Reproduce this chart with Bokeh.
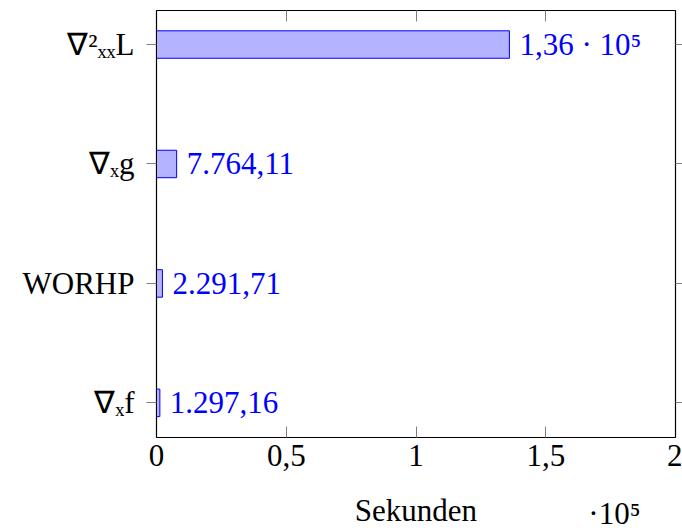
from bokeh.plotting import figure
from bokeh.models import Range1d, FixedTicker, LinearAxis, ColumnDataSource, Title, CustomJSTickFormatter
from bokeh.embed import file_html
from bokeh.resources import INLINE
from bokeh.core.properties import value

categories = ["∇ₓf", "WORHP", "∇ₓg", "∇²ₓₓL"]
seconds = [1297.16, 2291.71, 7764.11, 136000.0]
x_ticks = [0, 50000, 100000, 150000, 200000]
x_tick_labels = ["0", "0,5", "1", "1,5", "2"]
x_axis_title = "Sekunden"
x_scale_note = "·10⁵"

FONT = "Liberation Serif"
FS = "31px"
BLUE = "#0000FF"
GREY = "#7f7f7f"


def de_format(v):
    if v >= 1e5:
        m = v / 1e5
        s = f"{m:.2f}".replace(".", ",")
        return s + " · 10⁵"
    s = f"{v:,.2f}"
    return s.replace(",", "X").replace(".", ",").replace("X", ".")


positions = list(range(1, len(categories) + 1))
labels = [de_format(v) for v in seconds]
src = ColumnDataSource(dict(y=positions, x=seconds, lab=labels))

p = figure(width=682, height=531, output_backend="svg", toolbar_location=None,
           x_range=Range1d(0, 200000), y_range=Range1d(0.71, 4.285),
           min_border_left=156, min_border_right=7, min_border_top=10,
           min_border_bottom=94)
p.grid.visible = False
p.outline_line_color = "black"
p.outline_line_width = 1.2
p.background_fill_color = "white"
p.border_fill_color = "white"

p.hbar(y="y", right="x", left=0, height=0.23, source=src,
       fill_color="#B3B3FF", line_color=BLUE, line_width=1)
p.text(x="x", y="y", text="lab", source=src, x_offset=10,
       text_baseline="middle", text_align="left", text_color=BLUE,
       text_font=value(FONT), text_font_size=FS)

# bottom axis
xa = p.xaxis[0]
xa.ticker = FixedTicker(ticks=x_ticks)
xa.major_label_overrides = {t: l for t, l in zip(x_ticks, x_tick_labels)}
xa.major_tick_in = 11
xa.major_tick_out = 0
xa.minor_tick_line_color = None
xa.major_tick_line_color = GREY
xa.axis_line_color = "black"
xa.major_label_text_font = FONT
xa.major_label_text_font_size = FS
xa.major_label_text_color = "black"
xa.major_label_standoff = 7
xa.axis_label = x_axis_title
xa.axis_label_text_font = FONT
xa.axis_label_text_font_size = FS
xa.axis_label_text_font_style = "normal"
xa.axis_label_text_color = "black"
xa.axis_label_standoff = 24

# left axis
ya = p.yaxis[0]
ya.ticker = FixedTicker(ticks=positions)
ya.major_label_overrides = {pos: c for pos, c in zip(positions, categories)}
ya.major_tick_in = 0
ya.major_tick_out = 10
ya.minor_tick_line_color = None
ya.major_tick_line_color = GREY
ya.axis_line_color = "black"
ya.major_label_text_font = FONT
ya.major_label_text_font_size = FS
ya.major_label_text_color = "black"
ya.major_label_standoff = 12

blank = CustomJSTickFormatter(code="return ''")

# top axis (ticks only)
top = LinearAxis(ticker=FixedTicker(ticks=x_ticks), formatter=blank,
                 major_tick_in=11, major_tick_out=0, major_tick_line_color=GREY,
                 minor_tick_line_color=None, axis_line_color="black",
                 major_label_standoff=0, major_label_text_font_size="1px")
p.add_layout(top, "above")

# right axis (ticks only)
right = LinearAxis(ticker=FixedTicker(ticks=positions), formatter=blank,
                   major_tick_in=0, major_tick_out=7, major_tick_line_color=GREY,
                   minor_tick_line_color=None, axis_line_color="black",
                   major_label_standoff=0, major_label_text_font_size="1px")
p.add_layout(right, "right")

note = Title(text=x_scale_note, align="right", offset=35, standoff=-70,
             vertical_align="top",
             text_font=FONT, text_font_size=FS, text_font_style="normal",
             text_color="black")
p.add_layout(note, "below")

open("out.html", "w").write(file_html(p, INLINE))
